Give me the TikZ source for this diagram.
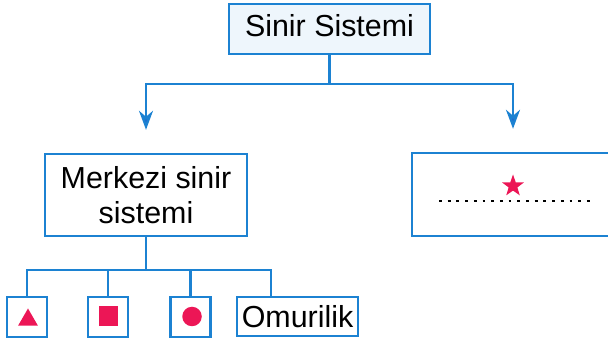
\documentclass[tikz,border=0pt]{standalone}
\usepackage{fontspec}
\setmainfont{Liberation Sans}
\usepackage{xcolor}
\usetikzlibrary{shapes.geometric, arrows.meta}
\definecolor{Line-Blue}{RGB}{28, 130, 210}
\definecolor{Arrow-Blue}{RGB}{32, 104, 206}
\definecolor{Mark-Red}{RGB}{236, 22, 86}
\definecolor{Box-Fill}{RGB}{238, 246, 252}

\begin{document}
\begin{tikzpicture}[x=0.5pt, y=-0.5pt, font=\fontsize{15.2}{17.5}\selectfont,
    box/.style={draw=Line-Blue, line width=1.2pt, align=center, inner sep=0pt},
    link/.style={draw=Line-Blue, line width=1.2pt},
    arrow/.style={link, shorten >=11.5pt, -{Stealth[length=9.5pt, width=7pt, inset=3pt, fill=Arrow-Blue]}},
    redmark/.style={fill=Mark-Red, inner sep=0pt},
    dotline/.style={line width=1.4pt, dash pattern=on 1.4pt off 2.95pt}]

    \clip (0,0) rectangle (608,340);

    % top level
    \node[box, fill=Box-Fill, minimum width=100.5pt, minimum height=25pt, text depth=4pt] (sinir) at (329.5,29) {Sinir Sistemi};

    % second level
    \node[box, minimum width=101pt, minimum height=41pt] (merkezi) at (146,195) {Merkezi sinir\\sistemi};
    \node[box, minimum width=101pt, minimum height=41.5pt] (diger) at (513,194.5) {};
    \node[star, star points=5, star point ratio=2.5, redmark, minimum size=11.5pt] (yildiz) at (513,186) {};
    \draw[dotline] (439,201) -- (590,201);

    % third level
    \node[box, minimum size=20pt] (ucgen) at (27,317) {};
    \node[box, minimum size=20pt] (kare) at (108,317) {};
    \node[box, minimum size=20pt] (daire) at (190.5,317) {};
    \node[box, minimum width=60.5pt, minimum height=19.5pt] (omurilik) at (297.5,316.5) {Omurilik};

    \node[regular polygon, regular polygon sides=3, redmark, minimum size=11.5pt] at (28,320) {};
    \node[rectangle, redmark, minimum size=9.75pt] at (108.5,316) {};
    \node[circle, redmark, minimum size=9.75pt] at (192,316.5) {};

    % connectors
    \coordinate (catal) at (329.5,84);
    \coordinate (kol) at (146,270);
    \draw[link] (sinir.south) -- (catal);
    \draw[arrow] (catal) -| (merkezi.north);
    \draw[arrow] (catal) -| (diger.north);

    \draw[link] (merkezi.south) -- (kol);
    \draw[link] (ucgen.north) |- (kol) -| ([xshift=-13.25pt]omurilik.north);
    \draw[link] (kare.north) -- (kare.north |- kol);
    \draw[link] (daire.north) -- (daire.north |- kol);

\end{tikzpicture}
\end{document}
